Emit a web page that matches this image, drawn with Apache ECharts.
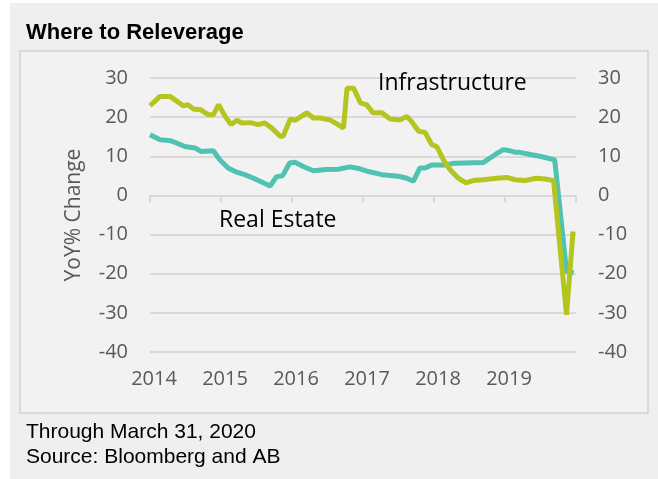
<!DOCTYPE html>
<html>
<head>
<meta charset="utf-8">
<script src="https://cdn.jsdelivr.net/npm/echarts@6/dist/echarts.min.js"></script>
<style>
  body { margin: 0; background: #fff; }
  #panel { position: absolute; left: 10px; top: 3px; width: 648px; height: 476px; background: #efefef; }
  #box { position: absolute; left: 19px; top: 50px; width: 626px; height: 360px; background: #f2f2f2; border: 2px solid #dadada; }
  #chart { position: absolute; left: 0; top: 0; width: 658px; height: 479px; }
</style>
</head>
<body>
<div id="panel"></div>
<div id="box"></div>
<div id="chart"></div>
<script>
// months counted from Jan 2014
var yearLabels = ['2014', '2015', '2016', '2017', '2018', '2019', ''];
var yTicks = [-40, -30, -20, -10, 0, 10, 20, 30];

var infraMonths = [0, 1.7, 3.4, 5.6, 6.4, 7.3, 8.5, 9.9, 10.7, 11.6, 12.7, 13.7, 14.7, 15.5, 17.0, 18.3, 19.4, 20.6, 22.0, 22.5,
  23.7, 24.5, 26.5, 27.6, 28.7, 30.4, 31.8, 32.7, 33.3, 34.4, 35.6, 36.6, 37.7, 39.2, 40.6, 42.3, 43.4, 44.2, 45.4, 46.5,
  47.6, 48.5, 49.6, 50.7, 52.1, 53.4, 54.6, 56.3, 58.6, 60.3, 61.7, 63.4, 65.3, 66.8, 68.2, 70.4, 71.5];
var infraValues = [22.9, 25.3, 25.3, 22.9, 23.2, 22.1, 21.9, 20.6, 20.6, 23.2, 20.2, 18.1, 19.2, 18.5, 18.6, 18.1, 18.5, 17.2, 15.1, 15.1,
  19.5, 19.2, 21.1, 19.8, 19.8, 19.3, 18.1, 17.2, 27.4, 27.4, 23.6, 23.2, 21.1, 21.1, 19.5, 19.3, 20.2, 18.9, 16.4, 16.1,
  13.0, 12.4, 9.1, 6.6, 4.4, 3.2, 3.8, 4.0, 4.4, 4.6, 4.0, 3.8, 4.4, 4.2, 3.8, -30.5, -9.2];

var realMonths = [0, 1.7, 3.4, 4.5, 5.9, 7.6, 8.7, 10.7, 11.8, 13.2, 14.4, 16.0, 17.5, 18.6, 20.3, 21.4, 22.4, 23.6, 24.5, 25.9,
  27.6, 29.8, 31.8, 33.8, 35.5, 36.9, 39.2, 42.0, 43.4, 44.5, 45.6, 46.5, 47.6, 49.9, 51.5, 53.2, 56.3, 58.3, 59.7, 60.6,
  61.7, 62.5, 64.5, 65.9, 68.4, 70.4, 71.6];
var realValues = [15.5, 14.2, 14.0, 13.4, 12.5, 12.1, 11.2, 11.4, 9.1, 7.0, 6.1, 5.3, 4.4, 3.6, 2.4, 4.8, 5.0, 8.3, 8.5, 7.4,
  6.3, 6.6, 6.7, 7.3, 6.8, 6.1, 5.3, 4.9, 4.4, 3.6, 7.0, 7.0, 7.8, 7.8, 8.2, 8.3, 8.4, 10.4, 11.7, 11.5,
  11.0, 11.0, 10.4, 10.0, 9.1, -19.4, -19.8];

function pairs(xs, ys) {
  var out = [];
  for (var i = 0; i < xs.length; i++) out.push([xs[i], ys[i]]);
  return out;
}

var chart = echarts.init(document.getElementById('chart'), null, { renderer: 'canvas' });
var font = '"Open Sans", sans-serif';
var arial = '"Liberation Sans", Arial, sans-serif';
var yAxisBase = {
  type: 'value',
  min: yTicks[0],
  max: yTicks[yTicks.length - 1],
  interval: 10,
  axisLine: { show: false },
  axisTick: { show: false },
  axisLabel: { color: '#595959', fontSize: 20, fontFamily: font, margin: 22 }
};

chart.setOption({
  backgroundColor: 'transparent',
  animation: false,
  title: [{
    text: 'Where to Releverage',
    left: 21, top: 17,
    textStyle: { fontFamily: arial, fontWeight: 'bold', fontSize: 22, color: '#000' }
  }, {
    text: 'Through March 31, 2020',
    left: 21, top: 417,
    textStyle: { fontFamily: arial, fontWeight: 'normal', fontSize: 21, color: '#000' }
  }, {
    text: 'Source: Bloomberg and AB',
    left: 21, top: 442,
    textStyle: { fontFamily: arial, fontWeight: 'normal', fontSize: 21, color: '#000' }
  }],
  graphic: [{
    type: 'text', left: 378, top: 72, z: 100,
    style: { text: 'Infrastructure', fill: '#000', font: '23px "Open Sans", sans-serif' }
  }, {
    type: 'text', left: 219, top: 209, z: 100,
    style: { text: 'Real Estate', fill: '#000', font: '23px "Open Sans", sans-serif' }
  }],
  grid: { left: 150, right: 82, top: 78, bottom: 127 },
  xAxis: [{
    type: 'value',
    min: 0, max: 72, interval: 12,
    position: 'bottom',
    axisLine: { show: false, onZero: false },
    axisTick: { show: false },
    splitLine: { show: false },
    axisLabel: {
      color: '#595959', fontSize: 20, fontFamily: font, margin: 17, padding: [0, 0, 0, 8],
      formatter: function (v) { return yearLabels[v / 12]; }
    }
  }, {
    type: 'value',
    min: 0, max: 72, interval: 12,
    position: 'top',
    axisLine: { show: true, onZero: true, onZeroAxisIndex: 0, lineStyle: { color: '#d9d9d9', width: 2 } },
    axisTick: { show: true, inside: true, length: 7, lineStyle: { color: '#d9d9d9', width: 2 } },
    axisLabel: { show: false },
    splitLine: { show: false }
  }],
  yAxis: [
    Object.assign({}, yAxisBase, {
      position: 'left',
      name: 'YoY% Change',
      nameLocation: 'middle',
      nameGap: 65,
      nameRotate: 90,
      nameTextStyle: { color: '#595959', fontSize: 21, fontFamily: font },
      splitLine: { show: true, lineStyle: { color: '#d9d9d9', width: 2 } }
    }),
    Object.assign({}, yAxisBase, {
      position: 'right',
      splitLine: { show: false }
    })
  ],
  series: [{
    name: 'Real Estate',
    type: 'line',
    xAxisIndex: 0,
    yAxisIndex: 0,
    data: pairs(realMonths, realValues),
    showSymbol: false,
    symbol: 'none',
    lineStyle: { color: '#4fc2b1', width: 5 }
  }, {
    name: 'Infrastructure',
    type: 'line',
    xAxisIndex: 0,
    yAxisIndex: 0,
    data: pairs(infraMonths, infraValues),
    showSymbol: false,
    symbol: 'none',
    lineStyle: { color: '#b4c520', width: 5 }
  }]
});
</script>
</body>
</html>
